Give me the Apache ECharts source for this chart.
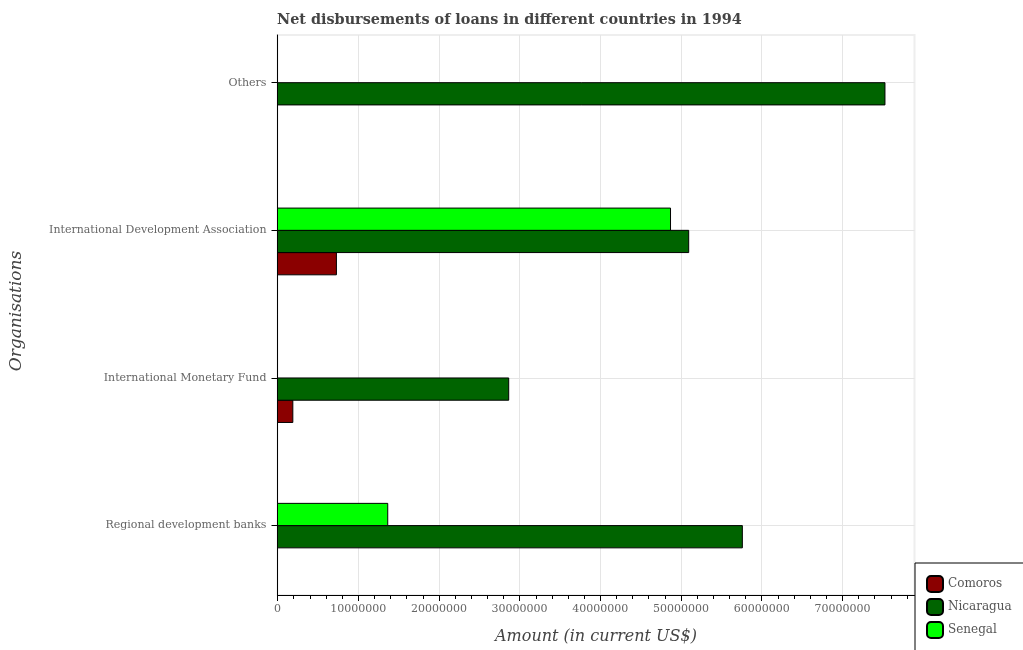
<!DOCTYPE html>
<html>
<head>
<meta charset="utf-8">
<style>html,body{margin:0;padding:0;background:#fff}#c{width:1023px;height:650px}</style>
<script src="https://cdn.jsdelivr.net/npm/echarts@6/dist/echarts.min.js"></script>
</head>
<body>
<div id="c"></div>
<script>
const categories = ['Regional development banks','International Monetary Fund','International Development Association','Others'];
const comoros = [null, 1900000, 7300000, null];
const nicaragua = [57600000, 28650000, 50950000, 75270000];
const senegal = [13660000, null, 48700000, null];
const majorTicks = [0,10000000,20000000,30000000,40000000,50000000,60000000,70000000];
const minorTicks = [0,2000000,4000000,6000000,8000000,10000000,12000000,14000000,16000000,18000000,20000000,22000000,24000000,26000000,28000000,30000000,32000000,34000000,36000000,38000000,40000000,42000000,44000000,46000000,48000000,50000000,52000000,54000000,56000000,58000000,60000000,62000000,64000000,66000000,68000000,70000000,72000000,74000000,76000000,78000000];
const catTicks = [0,1,2,3];

const serif = '"DejaVu Serif"';
const chart = echarts.init(document.getElementById('c'), null, {renderer:'canvas'});

const THICK = 0.1507;
function barSeries(name, values, color, slot){
  return {
    name, type:'custom', coordinateSystem:'cartesian2d', xAxisIndex:0, yAxisIndex:0,
    itemStyle:{color, borderColor:'#000', borderWidth:1},
    encode:{x:0,y:1},
    data: values.map((v,i)=>v==null?null:[v,i]).filter(Boolean),
    renderItem(params, api){
      const v = api.value(0), c = api.value(1);
      const p0 = api.coord([0, c - slot*THICK]);
      const p1 = api.coord([v, c - (slot+1)*THICK]);
      return {
        type:'rect',
        shape:{x:p0[0], y:p0[1], width:p1[0]-p0[0], height:p1[1]-p0[1]},
        style:{fill:color, stroke:'#000', lineWidth:1}
      };
    }
  };
}

chart.setOption({
  animation:false,
  backgroundColor:'#fff',
  title:{
    text:'Net disbursements of loans in different countries in 1994',
    left:272, top:8,
    textStyle:{fontFamily:serif,fontSize:14.4,fontWeight:'bold',color:'#444'}
  },
  legend:{
    orient:'vertical', left:915, top:563, height:120, width:140,
    padding:[12,40,16,11], itemWidth:16, itemHeight:16, itemGap:5,
    borderColor:'#000', borderWidth:1, backgroundColor:'#fff',
    textStyle:{fontFamily:serif,fontSize:12,color:'#555'},
    data:['Comoros','Nicaragua','Senegal'],
    selectedMode:false
  },
  grid:{left:277.5,top:35,width:637,height:561,show:true,borderColor:'#eeeeee',borderWidth:2,backgroundColor:'#fff'},
  xAxis:[{
    type:'value', min:0, max:78930000, position:'bottom',
    name:'Amount (in current US$)', nameLocation:'middle', nameGap:34,
    nameTextStyle:{fontFamily:serif,fontSize:16,fontStyle:'italic',color:'#444'},
    axisLine:{show:true,onZero:false,lineStyle:{color:'#000',width:1}},
    axisTick:{show:true,length:6,lineStyle:{color:'#000'},customValues:majorTicks},
    axisLabel:{fontFamily:serif,fontSize:11,color:'#666',margin:9,customValues:majorTicks,formatter:v=>String(v)},
    splitLine:{show:true,lineStyle:{color:'#e5e5e5',width:1}}
  },{
    type:'value', min:0, max:78930000, position:'bottom',
    axisLine:{show:false,onZero:false},
    axisTick:{show:true,length:4,lineStyle:{color:'#000'},customValues:minorTicks},
    axisLabel:{show:false},
    splitLine:{show:false}
  }],
  yAxis:{
    type:'value', min:-0.470, max:3.323,
    name:'Organisations', nameLocation:'middle', nameGap:252,
    nameTextStyle:{fontFamily:serif,fontSize:17,fontStyle:'italic',color:'#444',padding:[0,0,0,8]},
    axisLine:{show:true,onZero:false,lineStyle:{color:'#000',width:1}},
    axisTick:{show:true,length:6,lineStyle:{color:'#000'},customValues:catTicks},
    axisLabel:{fontFamily:serif,fontSize:11,color:'#666',margin:11,customValues:catTicks,formatter:v=>categories[Math.round(v)]||''},
    splitLine:{show:true,lineStyle:{color:'#e5e5e5',width:1}}
  },
  series:[
    barSeries('Comoros',comoros,'#8b0000',1),
    barSeries('Nicaragua',nicaragua,'#006400',0),
    barSeries('Senegal',senegal,'#00ff00',-1)
  ]
});
</script>
</body>
</html>
